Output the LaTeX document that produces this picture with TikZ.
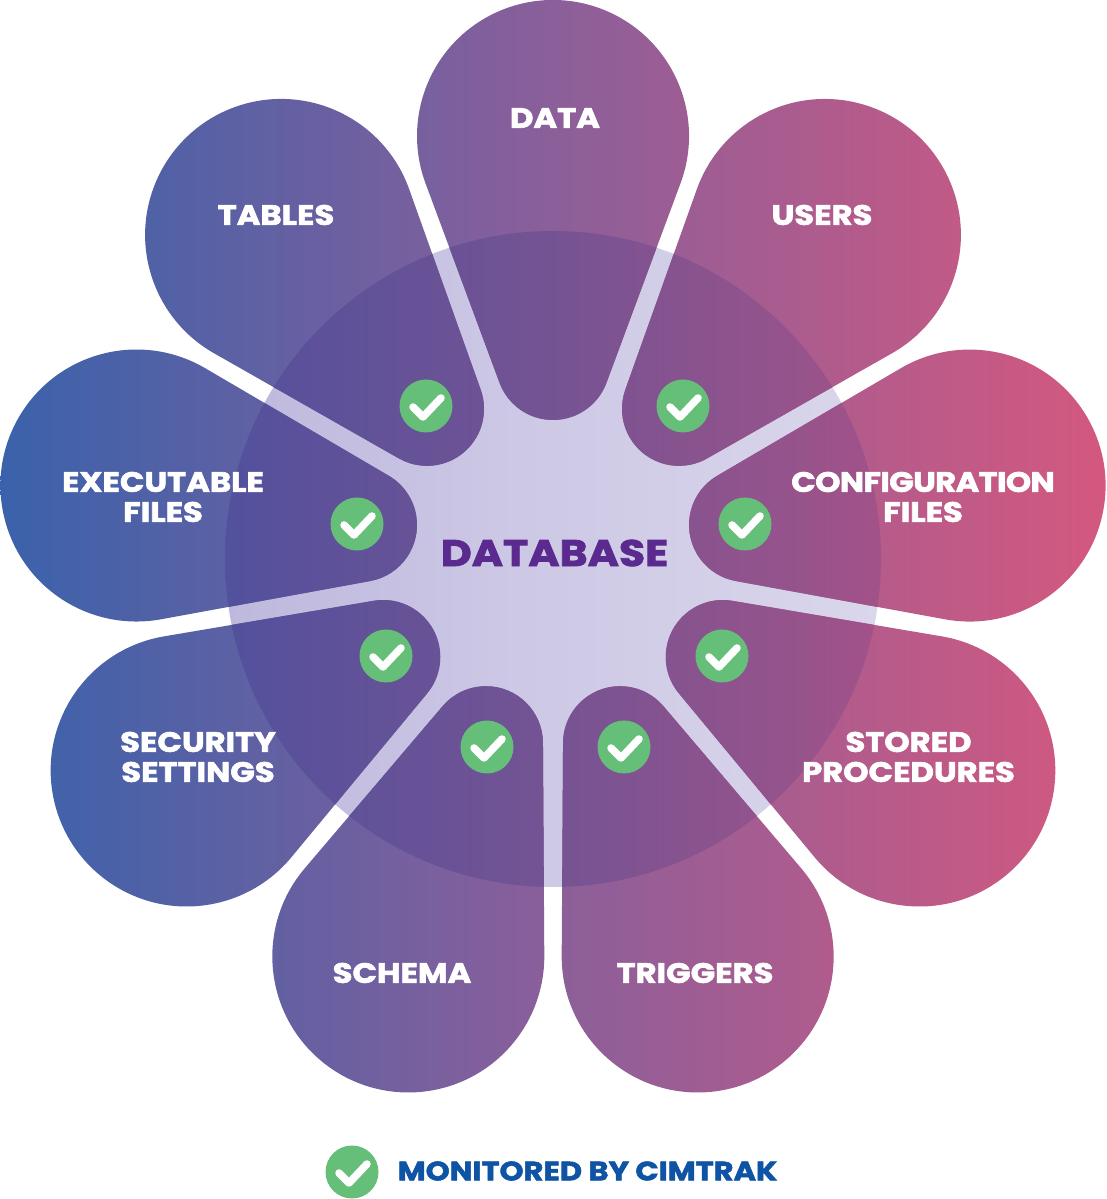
\documentclass[tikz,border=0pt]{standalone}
\usepackage{fontspec}
\setmainfont{Poppins}[BoldFont={* Bold},BoldFeatures={FakeBold=2.2,FakeStretch=1.15}]
\usetikzlibrary{calc}
\definecolor{outL}{RGB}{58,98,171}
\definecolor{outM}{RGB}{139,95,154}
\definecolor{outR}{RGB}{212,88,127}
\definecolor{inL}{RGB}{59,79,163}
\definecolor{inM}{RGB}{117,83,147}
\definecolor{inR}{RGB}{193,82,129}
\definecolor{discL}{RGB}{190,184,221}
\definecolor{discM}{RGB}{206,202,230}
\definecolor{discR}{RGB}{218,214,235}
\definecolor{okgreen}{RGB}{102,191,120}
\definecolor{dbpurple}{RGB}{91,42,142}
\definecolor{monblue}{RGB}{15,84,164}
\tikzset{
  x=1pt,y=1pt,
  lab/.style={text=white,font=\bfseries\fontsize{28}{30}\selectfont,align=center,inner sep=0pt},
  okdot/.style={circle,fill=okgreen,minimum size=53pt,inner sep=0pt},
  tick/.style={draw=white,line width=7.5pt,line cap=round,line join=round}
}
% centre of flower (553,640) in y-up coordinates; R=136 at 423, r=57 at 196, tangent angle 20.37
\newcommand{\petalpath}[1]{%
  ([shift={(553,640)},rotate=#1]127.5,375.66) arc[start angle=-20.37+#1,end angle=200.37+#1,radius=136]
  -- ([shift={(553,640)},rotate=#1]-53.44,176.16) arc[start angle=200.37+#1,end angle=339.63+#1,radius=57]
  -- cycle }
\newcommand{\allpetals}{%
  \petalpath{0} \petalpath{40} \petalpath{80} \petalpath{120} \petalpath{160}
  \petalpath{200} \petalpath{240} \petalpath{280} \petalpath{320}}
\newcommand{\okmark}[3]{%
  \node[okdot] (#1) at (#2,#3) {};
  \draw[tick] ($(#1)+(-13,-1)$) -- ($(#1)+(-3,-11)$) -- ($(#1)+(15,8)$);}
\begin{document}
\begin{tikzpicture}
\useasboundingbox (0,0) rectangle (1106,1199);
% disc
\begin{scope}
  \clip (553,640) circle[radius=328];
  \shade[left color=discL,right color=discR,middle color=discM] (225,300) rectangle (881,990);
\end{scope}
% petals outside disc tone
\begin{scope}
  \clip \allpetals;
  \shade[left color=outL,right color=outR,middle color=outM] (0,0) rectangle (1106,1199);
  \clip (553,640) circle[radius=328];
  \shade[left color=inL,right color=inR,middle color=inM] (0,0) rectangle (1106,1199);
\end{scope}
% labels
\node[lab] (data) at (555,1081) {DATA};
\node[lab] (users) at (822,984) {USERS};
\node[lab] (tables) at (276,984) {TABLES};
\node[lab] (exec) at (163,702) {EXECUTABLE\\FILES};
\node[lab] (conf) at (923,702) {{\addfontfeature{LetterSpace=-2.3}CONFIGURATION}\\FILES};
\node[lab] (sec) at (198,442) {SECURITY\\SETTINGS};
\node[lab] (stored) at (908.5,442) {STORED\\PROCEDURES};
\node[lab] (schema) at (402,226) {SCHEMA};
\node[lab] (trig) at (695,226) {TRIGGERS};
\node[text=dbpurple,font=\bfseries\fontsize{37}{38}\selectfont,inner sep=0pt] (db) at (554.5,646) {DATABASE};
\okmark{c1}{426}{793}
\okmark{c2}{683}{793}
\okmark{c3}{357}{675}
\okmark{c4}{745}{675}
\okmark{c5}{386}{543}
\okmark{c6}{722}{543}
\okmark{c7}{487}{452}
\okmark{c8}{624}{452}
\okmark{c9}{352}{27}
\node[text=monblue,font=\bfseries\fontsize{26.5}{28}\selectfont,inner sep=0pt] (mon) at (587.5,28) {MONITORED BY CIMTRAK};
\end{tikzpicture}
\end{document}
